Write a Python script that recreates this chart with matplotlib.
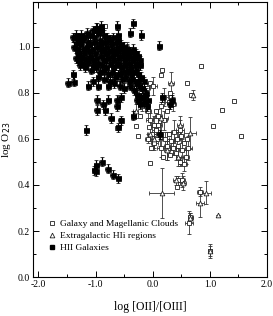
import matplotlib
matplotlib.use('Agg')
import matplotlib.pyplot as plt
from matplotlib.ticker import MultipleLocator, FormatStrFormatter
from matplotlib.lines import Line2D

plt.rcParams['font.family'] = 'Liberation Serif'

# HII galaxies (filled squares with small error bars)
hg_x = [-1.40, -1.35, -1.30, -1.25, -1.20, -1.15, -1.10, -1.05, -1.00, -0.95, -0.90, -0.85,
        -0.80, -0.75, -0.70, -0.65, -0.60, -0.55, -0.50, -0.45, -0.40, -0.35, -0.30, -0.25,
        -1.38, -1.32, -1.27, -1.22, -1.17, -1.12, -1.07, -1.02, -0.97, -0.92, -0.87, -0.82,
        -0.77, -0.72, -0.67, -0.62, -0.57, -0.52, -0.47, -0.42, -0.37, -0.32, -0.27, -0.22,
        -1.35, -1.30, -1.25, -1.20, -1.15, -1.10, -1.05, -1.00, -0.95, -0.90, -0.85, -0.80,
        -0.75, -0.70, -0.65, -0.60, -0.55, -0.50, -0.45, -0.40, -0.35, -0.30, -0.25, -0.20,
        -1.28, -1.18, -1.08, -1.00, -0.93, -0.86, -0.79, -0.72, -0.66, -0.60, -0.54, -0.48,
        -0.42, -0.36, -0.30, -0.24, -0.18, -0.12,
        -0.95, -0.85, -0.75, -0.68, -0.58, -0.50, -0.40, -0.33, -0.27, -0.20, -0.15, -0.10,
        -0.22, -0.28, -0.98, -0.90,
        -1.33, -1.23, -1.13, -1.03, -0.93, -0.83, -0.73, -0.63, -0.53, -0.43, -0.33, -0.23,
        -1.31, -1.21, -1.11, -1.01, -0.91, -0.81, -0.71, -0.61, -0.51, -0.41, -0.31, -0.16,
        -1.24, -1.14, -1.04, -0.89, -0.81, -0.69, -0.56, -0.46, -0.38, -0.26, -0.14, -0.08,
        -1.49, -1.38, -1.39, -1.16, -0.60, -0.62, -0.34, -0.20, -0.39, 0.115,
        -1.13, -1.05, -0.95, -0.78, -0.98, -0.98, -0.83, -0.87, -0.78, -0.73, -0.63, -0.63,
        -0.56, -0.56, -0.60, -1.02, -0.99, -0.89, -0.79, -0.70, -0.60, -1.00,
        0.17, 0.30, 0.33, -0.34, 0.12]
hg_y = [1.04, 1.05, 1.04, 1.05, 1.04, 1.06, 1.05, 1.07, 1.08, 1.06, 1.07, 1.05,
        1.04, 1.03, 1.04, 1.02, 1.03, 1.01, 1.00, 0.99, 0.98, 0.99, 0.97, 0.96,
        1.00, 0.99, 1.01, 0.99, 1.00, 1.01, 0.99, 1.02, 1.00, 1.01, 0.99, 1.00,
        0.98, 0.99, 0.97, 0.98, 0.96, 0.97, 0.95, 0.96, 0.94, 0.95, 0.93, 0.92,
        0.95, 0.94, 0.96, 0.95, 0.93, 0.96, 0.94, 0.95, 0.93, 0.96, 0.94, 0.95,
        0.93, 0.94, 0.92, 0.93, 0.91, 0.92, 0.90, 0.91, 0.89, 0.90, 0.88, 0.87,
        0.92, 0.91, 0.90, 0.91, 0.89, 0.90, 0.88, 0.89, 0.87, 0.88, 0.86, 0.87,
        0.85, 0.86, 0.84, 0.83, 0.82, 0.80,
        0.87, 0.86, 0.85, 0.84, 0.83, 0.82, 0.83, 0.81, 0.79, 0.78, 0.76, 0.74,
        0.75, 0.77, 1.08, 1.09,
        1.02, 1.03, 1.02, 1.04, 1.03, 1.02, 1.01, 1.00, 0.99, 0.97, 0.97, 0.94,
        0.97, 0.97, 0.98, 0.97, 0.98, 0.97, 0.96, 0.95, 0.94, 0.93, 0.92, 0.85,
        0.93, 0.94, 0.92, 0.92, 0.91, 0.91, 0.89, 0.89, 0.88, 0.85, 0.79, 0.77,
        0.843, 0.848, 0.88, 0.638, 1.05, 1.09, 1.10, 1.05, 1.06, 1.003,
        0.83, 0.85, 0.83, 0.83, 0.77, 0.725, 0.725, 0.75, 0.77, 0.69, 0.77, 0.74,
        0.78, 0.68, 0.65, 0.464, 0.486, 0.50, 0.47, 0.445, 0.428, 0.46,
        0.78, 0.75, 0.77, 0.70, 0.62]

# Galaxy and Magellanic Clouds (open squares)
gal_x = [0.17, 0.14, 0.85, 0.60, 0.67, 1.22, 1.42, 1.05, 1.54, -0.04, -0.30, -0.25,
         -0.83, -0.62, -0.61, -0.63, -0.46, -0.55,
         -0.20, -0.15, -0.10, -0.05, 0.00, -0.12, -0.08, -0.18, -0.22, -0.05, 0.02, 0.06,
         -0.02, -0.06, 0.10, 0.12, 0.08, 0.03, -0.03, -0.08, 0.15, 0.18, 0.22, 0.25,
         0.28, 0.32, 0.35, 0.30, 0.38, 0.42, 0.45, 0.48, 0.50, 0.52, 0.55, 0.58,
         0.48, 0.55, 0.60, 0.62, 0.40, 0.05, 0.10, 0.15, 0.20, 0.25, 0.28, 0.30,
         0.35, 0.20, 0.45, 0.42, 0.52, 0.83, 0.63, 1.00, 0.66]
gal_y = [0.90, 0.877, 0.916, 0.843, 0.79, 0.725, 0.765, 0.655, 0.612, 0.496, 0.655, 0.612,
         1.09, 0.843, 0.746, 0.645, 1.00, 0.68,
         0.80, 0.78, 0.82, 0.84, 0.83, 0.76, 0.72, 0.74, 0.70, 0.68, 0.66, 0.64,
         0.62, 0.65, 0.66, 0.62, 0.60, 0.58, 0.56, 0.60, 0.56, 0.52, 0.60, 0.57,
         0.62, 0.59, 0.56, 0.53, 0.63, 0.60, 0.57, 0.64, 0.61, 0.55, 0.58, 0.52,
         0.50, 0.49, 0.60, 0.56, 0.54, 0.72, 0.70, 0.74, 0.68, 0.72, 0.76, 0.80,
         0.75, 0.78, 0.42, 0.39, 0.42, 0.37, 0.235, 0.113, 0.26]
gal_xerr = [0, 0, 0, 0, 0, 0, 0, 0, 0, 0, 0, 0,
            0, 0, 0, 0, 0, 0,
            0.06, 0, 0.05, 0, 0.07, 0, 0.05, 0.08, 0, 0.06, 0.05, 0,
            0.07, 0, 0.06, 0.05, 0, 0.06, 0, 0.05, 0.07, 0, 0.06, 0.05,
            0, 0.07, 0.05, 0, 0.06, 0.05, 0, 0.07, 0.05, 0.06, 0, 0.05,
            0.04, 0.05, 0, 0.06, 0.05, 0, 0.06, 0, 0.05, 0, 0.06, 0,
            0.05, 0.06, 0.04, 0, 0.05, 0.05, 0.07, 0.03, 0.04]
gal_yerr = [0, 0, 0, 0, 0, 0, 0, 0, 0, 0, 0, 0,
            0, 0, 0, 0, 0, 0,
            0.03, 0, 0.02, 0, 0.04, 0, 0.03, 0.02, 0, 0.03, 0.04, 0,
            0.05, 0, 0.03, 0.05, 0, 0.03, 0, 0.02, 0.04, 0, 0.03, 0.06,
            0, 0.04, 0.03, 0, 0.05, 0.03, 0, 0.04, 0.03, 0.05, 0, 0.03,
            0.02, 0.03, 0, 0.05, 0.03, 0, 0.03, 0, 0.04, 0, 0.03, 0,
            0.03, 0.04, 0.02, 0, 0.03, 0.02, 0.05, 0.03, 0.02]

# Extragalactic HII regions (open triangles)
ehii_x = [0.155, 1.15, 0.93, 0.83, 0.66, 0.53, 0.32, 0.34, 0.65, 0.14, -1.36, 1.00,
          0.40, -0.05, 0.25, 0.45, -0.30, 0.02, 0.48, 0.70, -0.45]
ehii_y = [0.365, 0.268, 0.365, 0.32, 0.258, 0.41, 0.84, 0.77, 0.626, 0.69, 1.03, 0.113,
          0.42, 0.62, 0.55, 0.52, 0.72, 0.60, 0.66, 0.79, 1.00]
ehii_xerr = [0.22, 0, 0.09, 0.07, 0.05, 0.05, 0.06, 0.04, 0.10, 0.13, 0.05, 0.03,
             0.04, 0.05, 0.05, 0.04, 0.05, 0.06, 0.05, 0.03, 0.04]
ehii_yerr = [0.11, 0, 0.05, 0.06, 0.02, 0.03, 0.05, 0.03, 0.07, 0.07, 0.03, 0.02,
             0.02, 0.03, 0.04, 0.04, 0.03, 0.04, 0.04, 0.02, 0.02]

fig = plt.figure(figsize=(2.73, 3.16), dpi=100)
ax = fig.add_axes([0.120, 0.123, 0.858, 0.872])

eb_kw = dict(ecolor='#333333', elinewidth=0.6, capsize=1.5, capthick=0.6, linestyle='none')

ax.errorbar(gal_x, gal_y, xerr=gal_xerr, yerr=gal_yerr, marker='s', ms=3.2,
            mfc='white', mec='#222222', mew=0.6, zorder=2, **eb_kw)
ax.errorbar(ehii_x, ehii_y, xerr=ehii_xerr, yerr=ehii_yerr, marker='^', ms=3.4,
            mfc='white', mec='#222222', mew=0.6, zorder=2, **eb_kw)
ax.errorbar(hg_x, hg_y, xerr=0.045, yerr=0.02, marker='s', ms=3.6,
            mfc='black', mec='black', mew=0.5, zorder=3,
            ecolor='black', elinewidth=0.9, capsize=1.5, capthick=0.9, linestyle='none')

ax.set_xlim(-2.1, 2.0)
ax.set_ylim(0.0, 1.195)
ax.xaxis.set_major_locator(MultipleLocator(1.0))
ax.xaxis.set_minor_locator(MultipleLocator(0.5))
ax.yaxis.set_major_locator(MultipleLocator(0.2))
ax.yaxis.set_minor_locator(MultipleLocator(0.1))
ax.xaxis.set_major_formatter(FormatStrFormatter('%.1f'))
ax.yaxis.set_major_formatter(FormatStrFormatter('%.1f'))
ax.tick_params(which='both', direction='in', top=True, right=True, labelsize=7, width=0.7, pad=2)
ax.tick_params(which='major', length=4)
ax.tick_params(which='minor', length=2.5)
for s in ax.spines.values():
    s.set_linewidth(0.8)

ax.set_xlabel('log [OII]/[OIII]', fontsize=8.5, labelpad=9)
ax.set_ylabel('log O$_{23}$', fontsize=8)
ax.yaxis.set_label_coords(-0.085, 0.5)

handles = [
    Line2D([], [], marker='s', ms=3.2, mfc='white', mec='#222222', mew=0.6, ls='none'),
    Line2D([], [], marker='^', ms=3.4, mfc='white', mec='#222222', mew=0.6, ls='none'),
    Line2D([], [], marker='s', ms=2.5, mfc='black', mec='black', ls='none'),
]
ax.legend(handles, ['Galaxy and Magellanic Clouds', 'Extragalactic HIi regions', 'HII Galaxies'],
          loc='lower left', bbox_to_anchor=(0.02, 0.06), frameon=False, fontsize=6.8,
          handletextpad=0.3, labelspacing=0.35, handlelength=1.2)

fig.savefig('out.png', dpi=100)
